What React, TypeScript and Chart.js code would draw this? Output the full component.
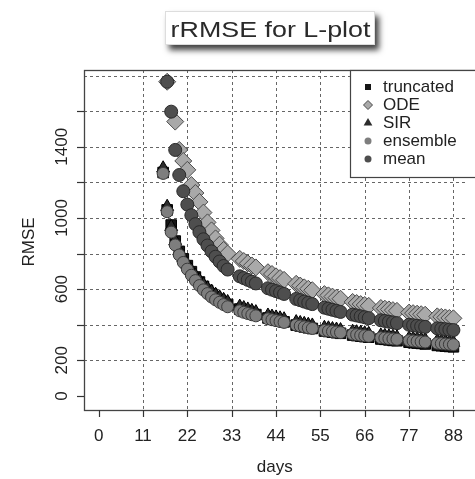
import React, { useEffect, useRef } from 'react';
import { Chart, registerables } from 'chart.js';
Chart.register(...registerables);

const days = [16,17,18,19,20,21,22,23,24,25,26,27,28,29,30,31,32,35,36,37,38,39,42,43,44,45,46,49,50,51,52,53,56,57,58,59,60,63,64,65,66,67,70,71,72,73,74,77,78,79,80,81,84,85,86,87,88];

const truncated = [1255,1045,960,870,812,770,732,698,668,640,615,593,573,556,541,527,514,488,480,472,464,457,438,432,427,421,416,398,393,388,383,379,365,362,358,355,352,342,339,336,333,330,320,318,315,312,310,302,299,297,295,292,284,282,280,278,276];
const ode = [null,1765,null,1541,1382,1320,1270,1185,1140,1090,1030,975,930,885,850,820,800,770,758,745,733,722,695,685,672,662,652,630,620,610,602,594,572,565,558,552,546,528,522,516,511,506,494,490,486,482,478,468,465,462,459,456,447,444,441,438,436];
const sir = [1279,1063,950,870,815,775,738,705,676,650,626,605,586,569,554,540,528,502,494,486,478,471,452,446,441,436,431,415,410,405,400,396,383,380,376,373,370,361,358,355,352,349,340,338,335,333,330,323,321,319,317,315,308,306,304,302,300];
const ensemble = [1250,1035,920,848,792,750,712,678,648,620,596,575,556,540,526,513,501,478,470,463,456,450,433,428,423,418,413,398,393,388,383,379,368,365,362,359,356,347,344,341,338,335,327,325,322,320,318,311,309,307,305,303,296,294,292,290,288];
const mean = [null,1765,1597,1382,1241,1150,1075,1015,965,920,880,845,812,782,755,730,710,672,662,652,642,632,605,597,589,581,573,545,538,530,523,516,496,490,484,478,472,457,452,447,442,437,425,421,417,413,409,400,397,394,391,388,380,377,375,372,370];

const seriesNames = ['truncated', 'ODE', 'SIR', 'ensemble', 'mean'];
const xTicks = [0, 11, 22, 33, 44, 55, 66, 77, 88];
const xGrid = [11, 22, 33, 44, 55, 66, 77, 88];
const yTicks = [0, 200, 400, 600, 800, 1000, 1200, 1400, 1600];
const yTickLabels = ['0', '200', '', '600', '', '1000', '', '1400', ''];
const yGrid = [200, 400, 600, 800, 1000, 1200, 1400, 1600, 1800];

const titleText = 'rRMSE for L-plot';
const xTitle = 'days';
const yTitle = 'RMSE';

const FONT = '"Liberation Sans", Arial, Helvetica, sans-serif';
const TEXT = '#222';

function pts(arr: (number | null)[]) {
  const out: { x: number; y: number }[] = [];
  days.forEach((d, i) => {
    const v = arr[i];
    if (v !== null && v !== undefined) out.push({ x: d, y: v });
  });
  return out;
}

const styles = [
  { pointStyle: 'rect', radius: 7.5, bg: '#161616', border: '#000000', lr: 4.2 },
  { pointStyle: 'rectRot', radius: 8.5, bg: '#a9a9a9', border: '#4a4a4a', lr: 4.5 },
  { pointStyle: 'triangle', radius: 7.5, bg: '#2c2c2c', border: '#000000', lr: 5 },
  { pointStyle: 'circle', radius: 6, bg: '#7e7e7e', border: '#3a3a3a', lr: 3.5 },
  { pointStyle: 'circle', radius: 6.5, bg: '#4e4e4e', border: '#2a2a2a', lr: 3.5 },
];

const decorPlugin = {
  id: 'decor',
  beforeDatasetsDraw(chart: any) {
    const { ctx, chartArea: ca, scales } = chart;
    const xs = scales.x, ys = scales.y;
    ctx.save();
    ctx.strokeStyle = '#666';
    ctx.lineWidth = 1;
    ctx.setLineDash([3, 3]);
    yGrid.forEach((v) => {
      const y = Math.round(ys.getPixelForValue(v)) + 0.5;
      ctx.beginPath();
      ctx.moveTo(ca.left, y);
      ctx.lineTo(ca.right, y);
      ctx.stroke();
    });
    xGrid.forEach((v) => {
      const x = Math.round(xs.getPixelForValue(v)) + 0.5;
      ctx.beginPath();
      ctx.moveTo(x, ca.top);
      ctx.lineTo(x, ca.bottom);
      ctx.stroke();
    });
    ctx.restore();
  },
  afterDatasetsDraw(chart: any) {
    const { ctx, chartArea: ca, scales } = chart;
    const xs = scales.x, ys = scales.y;
    ctx.save();
    // plot box
    ctx.strokeStyle = '#444';
    ctx.lineWidth = 1.3;
    ctx.strokeRect(ca.left + 0.5, ca.top + 0.5, ca.right - ca.left + 10, ca.bottom - ca.top);
    // ticks
    ctx.lineWidth = 1.2;
    ctx.strokeStyle = '#333';
    xTicks.forEach((v) => {
      const x = Math.round(xs.getPixelForValue(v)) + 0.5;
      ctx.beginPath();
      ctx.moveTo(x, ca.bottom);
      ctx.lineTo(x, ca.bottom + 7);
      ctx.stroke();
    });
    yTicks.forEach((v) => {
      const y = Math.round(ys.getPixelForValue(v)) + 0.5;
      ctx.beginPath();
      ctx.moveTo(ca.left - 7, y);
      ctx.lineTo(ca.left, y);
      ctx.stroke();
    });
    // tick labels
    ctx.fillStyle = TEXT;
    ctx.font = `17px ${FONT}`;
    ctx.textAlign = 'center';
    ctx.textBaseline = 'alphabetic';
    xTicks.forEach((v) => {
      ctx.fillText(String(v), xs.getPixelForValue(v), 441);
    });
    yTicks.forEach((v, i) => {
      const lab = yTickLabels[i];
      if (!lab) return;
      ctx.save();
      ctx.translate(67, ys.getPixelForValue(v));
      ctx.rotate(-Math.PI / 2);
      ctx.fillText(lab, 0, 0);
      ctx.restore();
    });
    // axis titles
    ctx.fillText(xTitle, (ca.left + ca.right) / 2, 472);
    ctx.save();
    ctx.translate(34, 242);
    ctx.rotate(-Math.PI / 2);
    ctx.fillText(yTitle, 0, 0);
    ctx.restore();

    // legend
    const lx = 350, ly = 70, lw = 140, lh = 107;
    ctx.fillStyle = '#fff';
    ctx.fillRect(lx, ly, lw, lh);
    ctx.strokeStyle = '#444';
    ctx.lineWidth = 1.2;
    ctx.strokeRect(lx + 0.5, ly + 0.5, lw, lh);
    seriesNames.forEach((name, i) => {
      const s = styles[i];
      const cy = 87 + i * 18;
      ctx.save();
      ctx.fillStyle = s.bg;
      ctx.strokeStyle = s.border;
      ctx.lineWidth = 1;
      ctx.beginPath();
      const cx = 368;
      if (s.pointStyle === 'rect') {
        ctx.rect(cx - 3, cy - 3, 6, 6);
      } else if (s.pointStyle === 'rectRot') {
        ctx.moveTo(cx, cy - s.lr);
        ctx.lineTo(cx + s.lr, cy);
        ctx.lineTo(cx, cy + s.lr);
        ctx.lineTo(cx - s.lr, cy);
        ctx.closePath();
      } else if (s.pointStyle === 'triangle') {
        ctx.moveTo(cx, cy - s.lr);
        ctx.lineTo(cx + s.lr * 0.87, cy + s.lr * 0.5);
        ctx.lineTo(cx - s.lr * 0.87, cy + s.lr * 0.5);
        ctx.closePath();
      } else {
        ctx.arc(cx, cy, s.lr, 0, Math.PI * 2);
      }
      ctx.fill();
      if (s.pointStyle === 'rectRot') ctx.stroke();
      ctx.restore();
      ctx.fillStyle = TEXT;
      ctx.font = `17px ${FONT}`;
      ctx.textAlign = 'left';
      ctx.textBaseline = 'middle';
      ctx.fillText(name, 383, cy);
    });

    // title box with shadow
    ctx.save();
    ctx.shadowColor = 'rgba(0,0,0,0.75)';
    ctx.shadowBlur = 6;
    ctx.shadowOffsetX = 4;
    ctx.shadowOffsetY = 5;
    ctx.fillStyle = '#fff';
    ctx.fillRect(165, 11, 210, 34);
    ctx.restore();
    ctx.strokeStyle = '#ddd';
    ctx.lineWidth = 1;
    ctx.strokeRect(165.5, 11.5, 209, 33);
    ctx.save();
    ctx.fillStyle = '#2a2a2a';
    ctx.font = `22px ${FONT}`;
    ctx.textAlign = 'center';
    ctx.textBaseline = 'alphabetic';
    ctx.translate(270.5, 37);
    ctx.scale(1.22, 1);
    ctx.fillText(titleText, 0, 0);
    ctx.restore();

    ctx.restore();
  },
};

export default function App() {
  const ref = useRef<HTMLCanvasElement | null>(null);
  useEffect(() => {
    if (!ref.current) return;
    const seriesData = [truncated, ode, sir, ensemble, mean];
    const chart = new Chart(ref.current, {
      type: 'scatter',
      data: {
        datasets: seriesNames.map((name, i) => ({
          label: name,
          data: pts(seriesData[i]),
          pointStyle: styles[i].pointStyle as any,
          pointRadius: styles[i].radius,
          pointBackgroundColor: styles[i].bg,
          pointBorderColor: styles[i].border,
          pointBorderWidth: 1,
          showLine: false,
          order: 5 - i,
        })),
      },
      options: {
        responsive: false,
        animation: false,
        events: [],
        layout: { padding: { left: 84, top: 70, right: 0, bottom: 69 } },
        scales: {
          x: { type: 'linear', display: false, min: -3.63, max: 91.0 },
          y: { type: 'linear', display: false, min: -79, max: 1831 },
        },
        plugins: {
          legend: { display: false },
          title: { display: false },
          tooltip: { enabled: false },
        },
      },
      plugins: [decorPlugin],
    });
    return () => chart.destroy();
  }, []);
  return (
    <div style={{ position: 'absolute', left: 0, top: 0, width: 475, height: 479, background: '#fff' }}>
      <canvas ref={ref} width={475} height={479} />
    </div>
  );
}
